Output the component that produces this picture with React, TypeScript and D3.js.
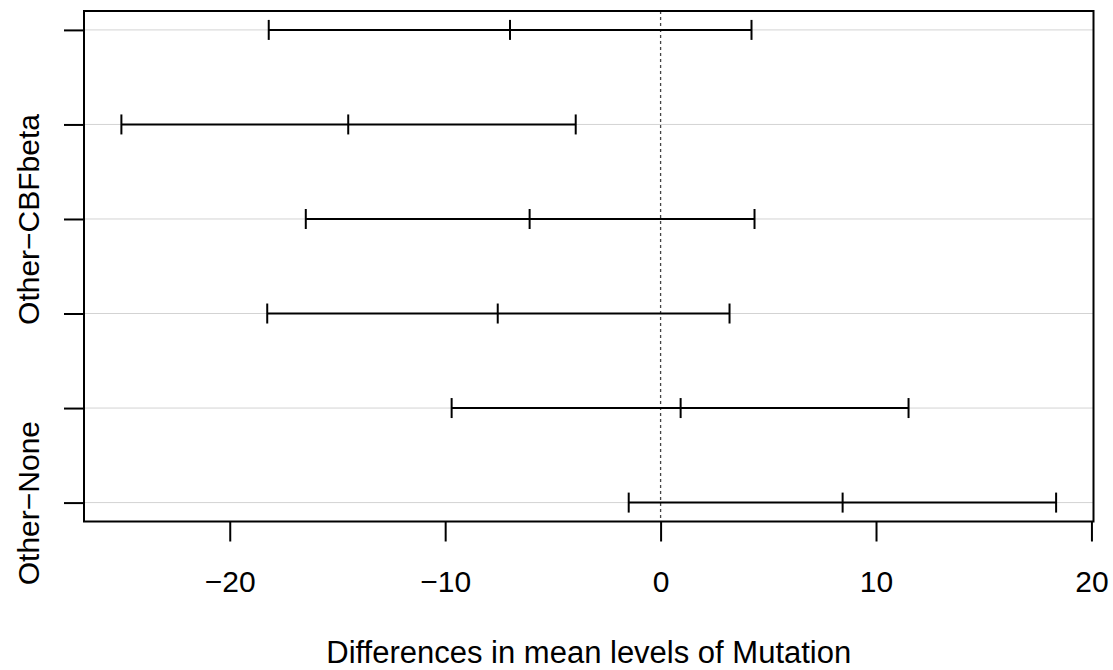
import React, { useEffect, useRef } from "react";
import * as d3 from "d3";

// rows listed top to bottom (R only prints the labels that don't overlap)
const rowLabels = ["", "", "Other\u2212CBFbeta", "", "", "Other\u2212None"];
const diffs = [-6.99, -14.5, -6.08, -7.56, 0.93, 8.45];
const lowers = [-18.19, -25.03, -16.47, -18.26, -9.7, -1.48];
const uppers = [4.22, -3.94, 4.36, 3.2, 11.51, 18.36];
const xTicks = [-20, -10, 0, 10, 20];
const xLabel = "Differences in mean levels of Mutation";

const width = 1113;
const height = 670;
const box = { left: 84, right: 1093.5, top: 11, bottom: 521.5 };
const font = "'Liberation Sans', Arial, Helvetica, sans-serif";
const lw = 2;

export default function App() {
  const ref = useRef<SVGSVGElement>(null);

  useEffect(() => {
    const svg = d3.select(ref.current);
    svg.selectAll("*").remove();

    const n = diffs.length;
    const lo = d3.min(lowers) as number;
    const hi = d3.max(uppers) as number;
    const pad = (hi - lo) * 0.04;

    const xScale = d3.scaleLinear().domain([lo - pad, hi + pad]).range([box.left, box.right]);
    const yScale = d3.scaleLinear().domain([1 - 0.04 * (n - 1), n + 0.04 * (n - 1)]).range([box.bottom, box.top]);

    const rows = diffs.map((d, i) => ({
      label: rowLabels[i],
      diff: d,
      lwr: lowers[i],
      upr: uppers[i],
      y: n - i,
    }));

    // light grey guide lines at every comparison
    svg.append("g")
      .selectAll("line")
      .data(rows)
      .join("line")
      .attr("x1", box.left)
      .attr("x2", box.right)
      .attr("y1", d => yScale(d.y))
      .attr("y2", d => yScale(d.y))
      .attr("stroke", "#d3d3d3")
      .attr("stroke-width", 1);

    // dashed zero line
    svg.append("line")
      .attr("x1", xScale(0))
      .attr("x2", xScale(0))
      .attr("y1", box.top)
      .attr("y2", box.bottom)
      .attr("stroke", "#444")
      .attr("stroke-width", 1.3)
      .attr("stroke-dasharray", "3,3");

    // intervals
    const bars = svg.append("g").selectAll("g").data(rows).join("g");
    bars.append("line")
      .attr("x1", d => xScale(d.lwr))
      .attr("x2", d => xScale(d.upr))
      .attr("y1", d => yScale(d.y))
      .attr("y2", d => yScale(d.y))
      .attr("stroke", "black")
      .attr("stroke-width", lw);
    bars.selectAll("line.cap")
      .data(d => [d.lwr, d.diff, d.upr].map(v => ({ v, y: d.y })))
      .join("line")
      .attr("class", "cap")
      .attr("x1", d => xScale(d.v))
      .attr("x2", d => xScale(d.v))
      .attr("y1", d => yScale(d.y) - 10)
      .attr("y2", d => yScale(d.y) + 10)
      .attr("stroke", "black")
      .attr("stroke-width", lw);

    // box
    svg.append("rect")
      .attr("x", box.left)
      .attr("y", box.top)
      .attr("width", box.right - box.left)
      .attr("height", box.bottom - box.top)
      .attr("fill", "none")
      .attr("stroke", "black")
      .attr("stroke-width", lw);

    const xAxis = d3.axisBottom(xScale).tickValues(xTicks).tickSize(20).tickFormat(d => d3.format("d")(d as number).replace("-", "\u2212"));
    const gx = svg.append("g").attr("transform", `translate(0,${box.bottom})`).call(xAxis);
    gx.select(".domain").remove();
    gx.selectAll("line").attr("stroke", "black").attr("stroke-width", lw);
    gx.selectAll("text")
      .attr("y", 70.5)
      .attr("dy", null)
      .attr("fill", "black")
      .style("font-family", font)
      .style("font-size", "30px");

    const yAxis = d3.axisLeft(yScale).tickValues(rows.map(r => r.y)).tickSize(20)
      .tickFormat(d => rows.find(r => r.y === d)?.label ?? "");
    const gy = svg.append("g").attr("transform", `translate(${box.left},0)`).call(yAxis);
    gy.select(".domain").remove();
    gy.selectAll("line").attr("stroke", "black").attr("stroke-width", lw);
    gy.selectAll("text")
      .attr("transform", "rotate(-90)")
      .attr("x", 0)
      .attr("y", -45)
      .attr("dy", null)
      .attr("text-anchor", "middle")
      .attr("fill", "black")
      .style("font-family", font)
      .style("font-size", "30px");

    svg.append("text")
      .attr("x", (box.left + box.right) / 2)
      .attr("y", 663)
      .attr("text-anchor", "middle")
      .style("font-family", font)
      .style("font-size", "31px")
      .text(xLabel);
  }, []);

  return (
    <div style={{ position: "absolute", left: 0, top: 0, width, height, background: "white" }}>
      <svg ref={ref} width={width} height={height}></svg>
    </div>
  );
}
